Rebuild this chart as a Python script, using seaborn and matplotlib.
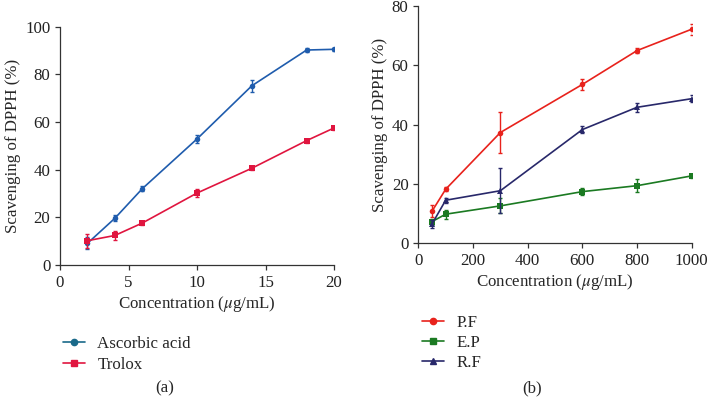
import matplotlib
matplotlib.use("Agg")
import matplotlib.pyplot as plt
import seaborn as sns
import pandas as pd
import numpy as np

# ---- data: panel (a)
conc_a = [2, 4, 6, 10, 14, 18, 20]
ascorbic = [9.1, 19.6, 32.0, 52.9, 75.2, 90.2, 90.5]
ascorbic_err = [2.5, 1.2, 1.0, 1.5, 2.5, 0.7, 0.5]
trolox = [10.2, 12.4, 17.6, 30.2, 40.6, 52.2, 57.5]
trolox_err = [3.0, 1.8, 0.8, 1.5, 0.6, 0.8, 1.0]

# ---- data: panel (b)
conc_b = [50, 100, 300, 600, 800, 1000]
pf = [10.8, 18.2, 37.3, 53.5, 64.9, 72.1]
pf_err = [2.0, 0.7, 7.0, 1.8, 0.8, 1.8]
ep = [7.3, 9.8, 12.6, 17.4, 19.4, 22.7]
ep_err = [1.0, 1.5, 2.5, 1.2, 2.2, 0.6]
rf = [6.5, 14.5, 17.7, 38.3, 45.8, 48.7]
rf_err = [1.2, 0.8, 7.5, 1.2, 1.5, 1.2]

ticks_a_x = [0, 5, 10, 15, 20]
ticks_a_y = [0, 20, 40, 60, 80, 100]
ticks_b_x = [0, 200, 400, 600, 800, 1000]
ticks_b_y = [0, 20, 40, 60, 80]

FS = 12.2

sns.set_style("ticks")
plt.rcParams['font.family'] = ['Liberation Serif', 'DejaVu Serif']
plt.rcParams['font.size'] = FS
plt.rcParams['mathtext.fontset'] = 'stix'

fig = plt.figure(figsize=(7.07, 4.04), dpi=100)
axa = fig.add_axes([0.0849, 0.344, 0.3876, 0.590])
axb = fig.add_axes([0.5917, 0.3978, 0.3867, 0.588])

def draw(ax, x, y, err, color, marker, label, ms):
    df = pd.DataFrame({"x": x, "y": y})
    sns.lineplot(data=df, x="x", y="y", ax=ax, color=color, marker=marker,
                 markersize=ms, markeredgewidth=0, linewidth=1.2, label=label,
                 legend=False)
    ax.errorbar(x, y, yerr=err, fmt='none', ecolor=color, elinewidth=1.0,
                capsize=1.5, capthick=1.0)

draw(axa, conc_a, ascorbic, ascorbic_err, '#1f5cad', 'o', 'Ascorbic acid', 4)
draw(axa, conc_a, trolox, trolox_err, '#e0153f', 's', 'Trolox', 4)

draw(axb, conc_b, pf, pf_err, '#e8221c', 'o', 'P.F', 4)
draw(axb, conc_b, ep, ep_err, '#1b7a22', 's', 'E.P', 4)
draw(axb, conc_b, rf, rf_err, '#28286a', '^', 'R.F', 4.5)

for ax, xt, yt, xl, yl in [(axa, ticks_a_x, ticks_a_y, (0, 20), (0, 100)),
                           (axb, ticks_b_x, ticks_b_y, (0, 1000), (0, 80))]:
    ax.set_xticks(xt)
    ax.set_yticks(yt)
    ax.set_xlim(*xl)
    ax.set_ylim(*yl)
    ax.spines['top'].set_visible(False)
    ax.spines['right'].set_visible(False)
    for s in ('left', 'bottom'):
        ax.spines[s].set_color('#333333')
        ax.spines[s].set_linewidth(0.9)
    ax.tick_params(direction='out', length=3.5, width=0.9, colors='#333333',
                   labelcolor='#222222', labelsize=FS)
    ax.set_xlabel(r'Concentration ($\mu$g/mL)', fontsize=FS, labelpad=2)
    ax.set_ylabel('Scavenging of DPPH (%)', fontsize=FS, labelpad=3)

from matplotlib.lines import Line2D
ha = [Line2D([], [], color='#1a6a8a', marker='o', markersize=4.5, lw=1.2),
      Line2D([], [], color='#e0153f', marker='s', markersize=4.5, lw=1.2)]
fig.legend(ha, ['Ascorbic acid', 'Trolox'], loc='upper left',
           bbox_to_anchor=(0.067, 0.205), frameon=False, fontsize=FS,
           handlelength=1.3, handletextpad=0.75, labelspacing=0.28)
hb = [Line2D([], [], color='#e8221c', marker='o', markersize=4.5, lw=1.2),
      Line2D([], [], color='#1b7a22', marker='s', markersize=4.5, lw=1.2),
      Line2D([], [], color='#28286a', marker='^', markersize=5, lw=1.2)]
fig.legend(hb, ['P.F', 'E.P', 'R.F'], loc='upper left',
           bbox_to_anchor=(0.575, 0.259), frameon=False, fontsize=FS,
           handlelength=1.3, handletextpad=0.75, labelspacing=0.24)

fig.text(0.233, 0.02, '(a)', ha='center', va='bottom', fontsize=FS)
fig.text(0.752, 0.02, '(b)', ha='center', va='bottom', fontsize=FS)

fig.savefig('out.png', dpi=100)
